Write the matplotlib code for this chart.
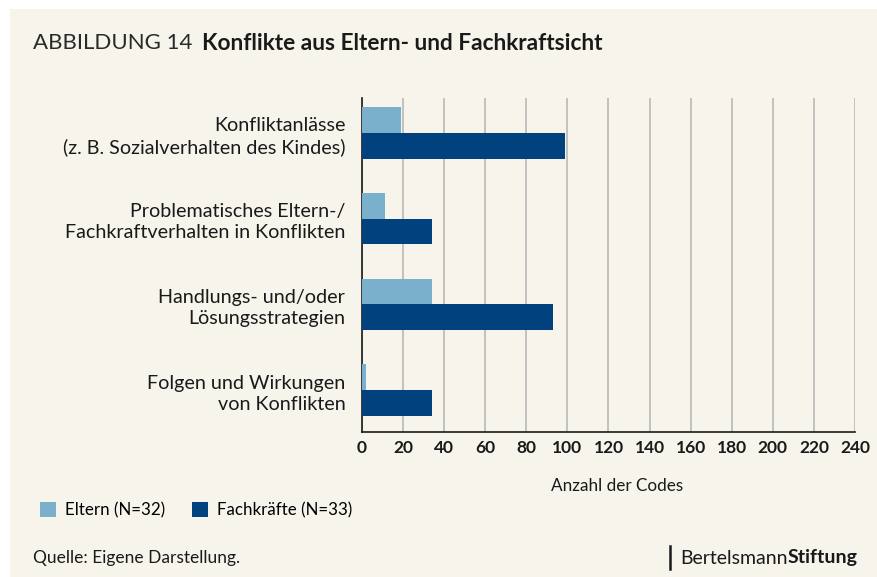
import numpy as np
import matplotlib.pyplot as plt
from matplotlib.patches import Rectangle

plt.rcParams['font.family'] = ['Lato', 'DejaVu Sans']

categories = ["Konfliktanlässe\n(z. B. Sozialverhalten des Kindes)",
              "Problematisches Eltern-/\nFachkraftverhalten in Konflikten",
              "Handlungs- und/oder\nLösungsstrategien",
              "Folgen und Wirkungen\nvon Konflikten"]
eltern = [19, 11, 34, 2]
fachkraefte = [99, 34, 93, 34]
xticks = list(range(0, 241, 20))

bg = "#f7f4ec"
c_light = "#7ab0cb"
c_dark = "#00417e"
txt = "#1a1a1a"

W, H = 878, 577
fig = plt.figure(figsize=(8.78, 5.77), dpi=100, facecolor="white")
fig.patches.append(Rectangle((10/W, 0), 1, 1 - 9/H, transform=fig.transFigure,
                             facecolor=bg, edgecolor="none", zorder=-10))

ax = fig.add_axes([362/W, 1 - 432/H, (855-362)/W, (432-98)/H])
ax.set_facecolor(bg)

y = np.arange(len(categories))
h = 0.3
ax.barh(y - h/2, eltern, height=h, color=c_light, label="Eltern (N=32)", zorder=3)
ax.barh(y + h/2, fachkraefte, height=h, color=c_dark, label="Fachkräfte (N=33)", zorder=3)

ax.set_ylim(3.49, -0.41)
ax.set_xlim(0, 240)
ax.set_xticks(xticks)
ax.set_xticklabels([str(t) for t in xticks], fontweight="bold", fontsize=12.5)
ax.set_yticks(y)
ax.set_yticklabels(categories, fontsize=14.2, linespacing=1.3, color=txt)
ax.tick_params(axis="y", length=0, pad=12)
ax.tick_params(axis="x", length=0, pad=6, colors=txt)
ax.grid(axis="x", color="#b9b9b9", linewidth=1.2, zorder=0)
for s in ["top", "right"]:
    ax.spines[s].set_visible(False)
for s in ["left", "bottom"]:
    ax.spines[s].set_color(txt)
    ax.spines[s].set_linewidth(1.2)

fig.text(617/W, 1 - 486/H, "Anzahl der Codes", ha="center", va="center", fontsize=12.3, color=txt)

fig.text(33/W, 1 - 43/H, "ABBILDUNG 14", ha="left", va="center", fontsize=16,
         fontweight="normal", color="#2a2a2a")
fig.text(202/W, 1 - 43/H, "Konflikte aus Eltern- und Fachkraftsicht", ha="left", va="center",
         fontsize=16.3, fontweight="bold", color=txt)

fig.legend(loc="center left", bbox_to_anchor=(28/W, 1 - 510/H), ncol=2, frameon=False,
           fontsize=12.2, handlelength=0.95, handleheight=1.0, handletextpad=0.55,
           columnspacing=1.55, borderpad=0.2)

fig.text(33/W, 1 - 558/H, "Quelle: Eigene Darstellung.", ha="left", va="center", fontsize=12.5,
         color=txt)

fig.lines.append(plt.Line2D([670/W, 670/W], [1 - 569/H, 1 - 546/H], transform=fig.transFigure,
                            color=txt, linewidth=1.8))
t1 = fig.text(680/W, 1 - 558/H, "Bertelsmann", ha="left", va="center", fontsize=14, color=txt)
fig.canvas.draw()
bb = t1.get_window_extent()
fig.text(bb.x1 / W, 1 - 558/H, "Stiftung", ha="left", va="center", fontsize=14,
         fontweight="bold", color=txt)

fig.savefig("out.png", dpi=100, facecolor=fig.get_facecolor())
